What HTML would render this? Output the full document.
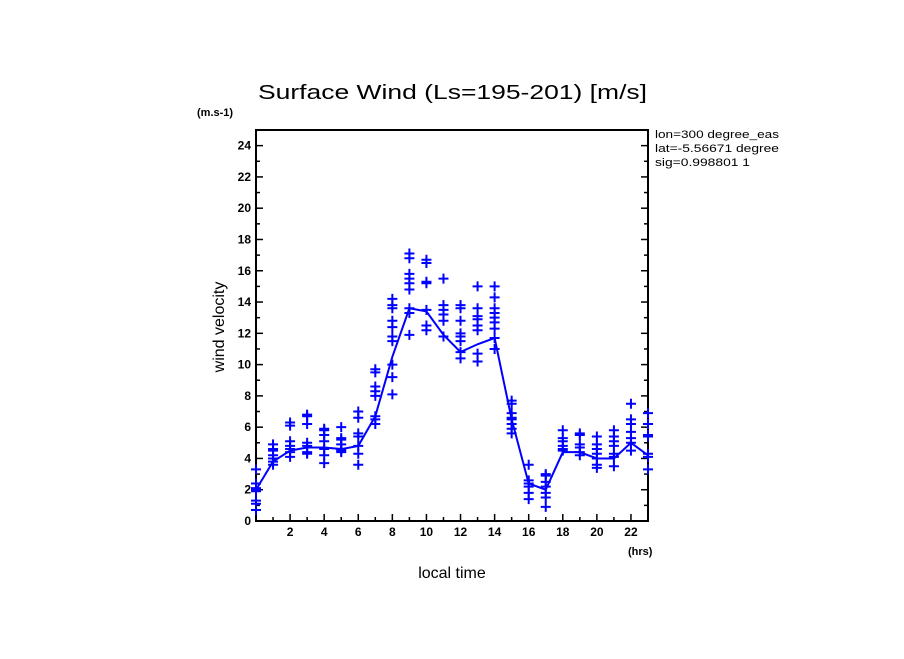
<!DOCTYPE html>
<html><head><meta charset="utf-8"><style>
body{margin:0;background:#fff}
svg text{font-family:"Liberation Sans","DejaVu Sans",sans-serif}
</style></head><body>
<svg id="chart" width="904" height="654" xmlns="http://www.w3.org/2000/svg">
<text x="258" y="99" font-size="20" textLength="389" lengthAdjust="spacingAndGlyphs">Surface Wind  (Ls=195-201) [m/s]</text>
<text x="197" y="116" font-size="11" font-weight="bold">(m.s-1)</text>
<text x="655" y="138" font-size="11" textLength="124" lengthAdjust="spacingAndGlyphs">lon=300 degree_eas</text>
<text x="655" y="152" font-size="11" textLength="124" lengthAdjust="spacingAndGlyphs">lat=-5.56671 degree</text>
<text x="655" y="166" font-size="11" textLength="95" lengthAdjust="spacingAndGlyphs">sig=0.998801 1</text>
<text x="628" y="555" font-size="11" font-weight="bold">(hrs)</text>
<text x="452" y="578" font-size="16" text-anchor="middle">local time</text>
<text transform="translate(224,327) rotate(-90)" font-size="16" text-anchor="middle">wind velocity</text>
<rect x="256" y="130" width="392" height="391" fill="none" stroke="#000" stroke-width="2"/>
<g id="axes"></g><g id="marks"></g>
</svg>
<script>
const hours=[0,1,2,3,4,5,6,7,8,9,10,11,12,13,14,15,16,17,18,19,20,21,22,23];
const meanValues=[2.0,3.8,4.5,4.7,4.7,4.6,4.8,6.7,10.5,13.6,13.4,11.9,10.8,11.3,11.7,6.5,2.4,2.0,4.4,4.4,4.0,4.0,5.0,4.2];
const samples=[
[3.3,2.4,2.1,2.0,1.9,1.3,1.1,0.7],
[4.9,4.6,4.5,4.2,4.0,3.8,3.6],
[6.3,6.1,5.1,4.8,4.6,4.4,4.1],
[6.8,6.7,6.2,5.0,4.8,4.4,4.3],
[5.9,5.8,5.5,5.1,4.6,4.2,3.7],
[6.0,5.3,5.2,4.9,4.6,4.5,4.4],
[7.0,6.6,5.6,5.4,4.8,4.3,3.6],
[9.7,9.5,8.6,8.3,8.0,6.7,6.5,6.2],
[14.2,13.8,13.6,12.8,12.4,11.8,11.5,10.0,9.2,8.1],
[17.1,16.8,15.8,15.5,15.2,14.8,13.6,13.3,11.9],
[16.7,16.5,15.3,15.2,13.5,12.5,12.2],
[15.5,13.8,13.5,13.2,12.8,11.8],
[13.8,13.6,12.8,12.0,11.8,11.5,10.8,10.4],
[15.0,13.6,13.1,12.9,12.5,12.2,10.7,10.2],
[15.0,14.3,13.6,13.3,13.0,12.7,12.3,11.7,11.0],
[7.7,7.5,6.9,6.6,6.5,6.2,5.9,5.6],
[3.6,2.6,2.4,2.2,1.8,1.4],
[3.0,2.9,2.5,2.2,1.8,1.5,0.9],
[5.8,5.3,5.1,4.8,4.6,4.5],
[5.6,5.5,4.9,4.7,4.4,4.2],
[5.4,4.9,4.6,4.3,4.0,3.6,3.4],
[5.8,5.4,5.1,4.8,4.3,4.1,3.5],
[7.5,6.5,6.2,5.7,5.3,5.0,4.5],
[6.9,6.2,5.5,5.4,4.3,4.1,3.3]];
const yTickLabels=["0","2","4","6","8","10","12","14","16","18","20","22","24"];
const xTickLabels=["2","4","6","8","10","12","14","16","18","20","22"];
const NS="http://www.w3.org/2000/svg";
const X0=256,X1=648,Y0=521,Y1=130,XMAX=23,YMAX=25;
const xs=h=>X0+h*(X1-X0)/XMAX, ys=v=>Y0-v*(Y0-Y1)/YMAX;
const axes=document.getElementById('axes'),marks=document.getElementById('marks');
function mk(tag,attrs,parent){const e=document.createElementNS(NS,tag);for(const k in attrs)e.setAttribute(k,attrs[k]);parent.appendChild(e);return e;}
for(let v=1;v<YMAX;v++){
  const major=v%2===0,L=major?7:4;
  const t1=mk('line',{x1:X0,x2:X0+L,y1:ys(v),y2:ys(v),stroke:'#000','stroke-width':1.5},axes);
  
  
  const t2=mk('line',{x1:X1,x2:X1-L,y1:ys(v),y2:ys(v),stroke:'#000','stroke-width':1.5},axes);
  
  
}
yTickLabels.forEach(s=>{
  const t=mk('text',{x:X0-5,y:ys(+s)+4,'font-size':12,'font-weight':'bold','text-anchor':'end'},axes);t.textContent=s;
  
  
});
for(let h=1;h<XMAX;h++){
  const L=h%2===0?7:4;
  const t=mk('line',{x1:xs(h),x2:xs(h),y1:Y0,y2:Y0-L,stroke:'#000','stroke-width':1.5},axes);
  
  
}
xTickLabels.forEach(s=>{
  const t=mk('text',{x:xs(+s),y:Y0+15,'font-size':12,'font-weight':'bold','text-anchor':'middle'},axes);t.textContent=s;
  
  
});
const line=mk('polyline',{points:hours.map((h,i)=>xs(h)+','+ys(meanValues[i])).join(' '),fill:'none',stroke:'#0000ff','stroke-width':2},marks);


samples.forEach((arr,i)=>arr.forEach(v=>{
  const x=xs(hours[i]),y=ys(v);
  const p=mk('path',{d:`M${x-5},${y}H${x+5}M${x},${y-5}V${y+5}`,stroke:'#0000ff','stroke-width':2},marks);
  
  
}));
</script>
</body></html>
